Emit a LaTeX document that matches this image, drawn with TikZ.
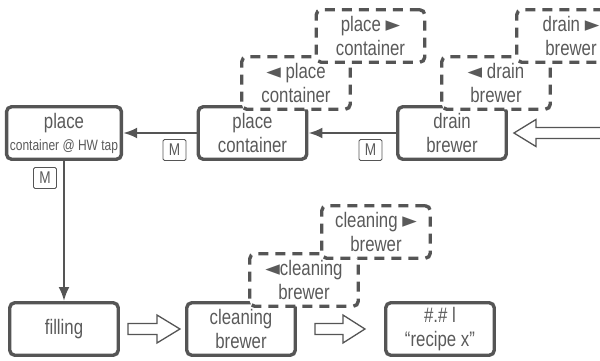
\documentclass[tikz,border=0pt]{standalone}
\usepackage{fontspec}
\setmainfont{Liberation Sans}[FakeStretch=0.8]
\newfontfamily\symfont{DejaVu Sans}[FakeStretch=0.9]
\usetikzlibrary{arrows.meta}
\definecolor{boxgray}{RGB}{85,85,85}
\definecolor{txtgray}{RGB}{90,90,90}
\newcommand{\lefttri}{{\symfont ◄}}
\newcommand{\righttri}{{\symfont ►}}

\begin{document}
\begin{tikzpicture}[x=1pt,y=-1pt]

\tikzset{stepbox/.style = {shape=rectangle, draw=boxgray, line width=3.4pt, rounded corners=5pt, minimum width=108.5pt, minimum height=52.5pt, align=center, text=txtgray, font=\fontsize{21}{24}\selectfont}}
\tikzset{optbox/.style = {stepbox, fill=white, dash pattern=on 10pt off 7pt}}
\tikzset{mbox/.style = {shape=rectangle, draw=boxgray, line width=0.9pt, rounded corners=1.5pt, minimum width=23pt, minimum height=21pt, inner sep=0pt, text=txtgray, font=\fontsize{17}{18}\selectfont}}
\tikzset{hollow/.style = {draw=boxgray, line width=1.3pt, fill=white}}
\tikzset{every edge/.style = {draw=boxgray, line width=2.4pt, -{Latex[length=14pt,width=11pt]}}}

\useasboundingbox (0,0) rectangle (600,361);
\clip (0,0) rectangle (600,361);

% steps
\node[stepbox] (tap) at (64,133) {place\\[-2pt]{\fontsize{15}{18}\selectfont container @ HW tap}};
\node[stepbox] (place) at (252.5,133) {place\\container};
\node[stepbox] (drain) at (452,133) {drain\\brewer};
\node[stepbox] (filling) at (64,329) {filling};
\node[stepbox] (clean) at (241,329) {cleaning\\brewer};
\node[stepbox] (recipe) at (440,329) {\#.\# l\\“recipe x”};

%edges
\path (place) edge (tap);
\path (drain) edge (place);
\path (tap) edge (filling);

% manual marks
\node[mbox] (m1) at (174.5,150) {M};
\node[mbox] (m2) at (370.5,150) {M};
\node[mbox] (m3) at (45,178) {M};

% hollow arrows
\draw[hollow] (filling.east) ++(8,-5.5) -- ++(29,0) -- ++(0,-8.5) -- ++(23,14) -- ++(-23,14) -- ++(0,-8.5) -- ++(-29,0) -- cycle;
\draw[hollow] (clean.east) ++(18,-5.5) -- ++(28,0) -- ++(0,-8.5) -- ++(22,14) -- ++(-22,14) -- ++(0,-8.5) -- ++(-28,0) -- cycle;
\draw[hollow] (drain.east) ++(6,0) -- ++(22,-13.5) -- ++(0,8) -- ++(80,0) -- ++(0,11) -- ++(-80,0) -- ++(0,8) -- cycle;

% optional steps
\node[optbox] (placeL) at (296,83) {\lefttri\ place\\container};
\node[optbox] (placeR) at (370.5,36) {place \righttri\\container};
\node[optbox] (drainL) at (496,83) {\lefttri\ drain\\brewer};
\node[optbox] (drainR) at (571,36) {drain \righttri\\brewer};
\node[optbox] (cleanL) at (304,280) {\lefttri cleaning\\brewer};
\node[optbox] (cleanR) at (376,232) {cleaning \righttri\\brewer};

\end{tikzpicture}
\end{document}
